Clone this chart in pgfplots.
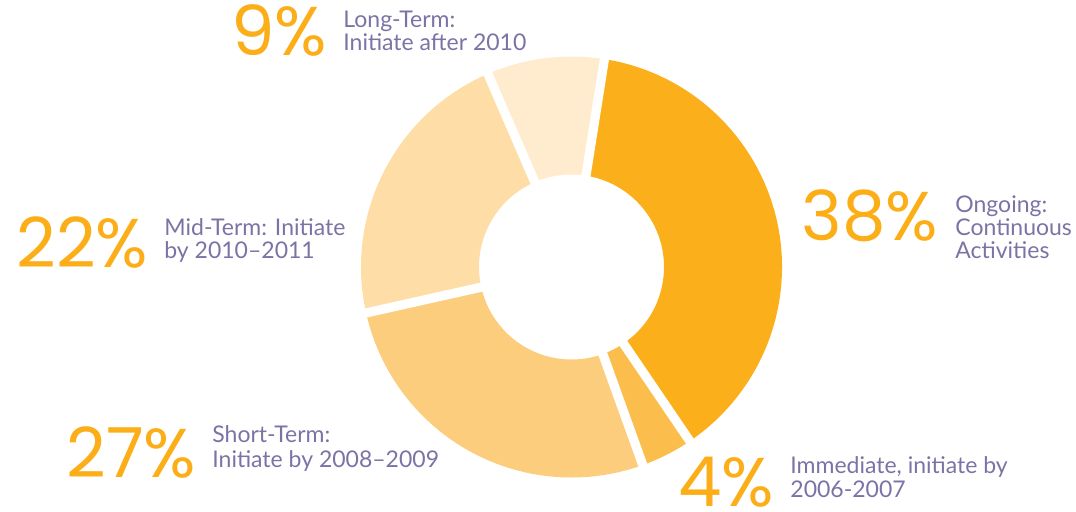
\documentclass[border=0pt]{standalone}
\usepackage{fontspec}
\setmainfont{Lato}
\newfontfamily\pctfont{Poppins}
\usepackage{pgfplots}
\usepackage{pgfplotstable}
\pgfplotsset{compat=1.18}
\usetikzlibrary{calc}
\definecolor{sA}{HTML}{FBAF1A}
\definecolor{sB}{HTML}{FBBE4C}
\definecolor{sC}{HTML}{FDCD7E}
\definecolor{sD}{HTML}{FEDDA6}
\definecolor{sE}{HTML}{FFEBCD}
\definecolor{pct}{HTML}{FBAE17}
\definecolor{lab}{HTML}{7A74A6}
% share of each slice (%), drawn clockwise
\pgfplotstableread{
value col
38 sA
4 sB
27 sC
22 sD
9 sE
}\slices
\begin{document}
\begin{tikzpicture}
\begin{axis}[scale only axis, width=538pt, height=255.5pt,
  xmin=0, xmax=1076, ymin=0, ymax=511, hide axis, clip=false]
\pgfplotsextra{
  \coordinate (C) at (axis cs:571.5,244);
  \def\Ro{105.25pt}\def\Ri{46.25pt}
  \xdef\ang{81}
  \pgfplotstablegetrowsof{\slices}
  \pgfmathtruncatemacro\nrows{\pgfplotsretval-1}
  \foreach \i in {0,...,\nrows}{
    \pgfplotstablegetelem{\i}{value}\of\slices \let\v\pgfplotsretval
    \pgfplotstablegetelem{\i}{col}\of\slices \let\c\pgfplotsretval
    \pgfmathsetmacro\a{\ang}
    \pgfmathsetmacro\b{\ang-3.6*\v}
    \fill[\c] ($(C)+(\a:\Ro)$) arc[start angle=\a, end angle=\b, radius=\Ro]
      -- ($(C)+(\b:\Ri)$) arc[start angle=\b, end angle=\a, radius=\Ri] -- cycle;
    \xdef\ang{\b}
  }
  \xdef\ang{81}
  \foreach \i in {0,...,\nrows}{
    \pgfplotstablegetelem{\i}{value}\of\slices \let\v\pgfplotsretval
    \draw[white, line width=4.6pt] ($(C)+(\ang:44pt)$) -- ($(C)+(\ang:107pt)$);
    \pgfmathsetmacro\b{\ang-3.6*\v}
    \xdef\ang{\b}
  }
}
\begin{scope}[every node/.style={inner sep=0pt, anchor=base west}]
\node[text=pct, font=\pctfont\fontsize{34.5}{34.5}\selectfont] at (axis cs:231,456) {9\%};
\node[text=pct, font=\pctfont\fontsize{34.5}{34.5}\selectfont] at (axis cs:801,271) {38\%};
\node[text=pct, font=\pctfont\fontsize{34.5}{34.5}\selectfont] at (axis cs:16,244) {22\%};
\node[text=pct, font=\pctfont\fontsize{34.5}{34.5}\selectfont] at (axis cs:66,34) {27\%};
\node[text=pct, font=\pctfont\fontsize{34.5}{34.5}\selectfont] at (axis cs:678,5) {4\%};
\node[text=lab, font=\fontsize{11.5}{11.5}\selectfont, align=left] at (axis cs:343,484) {Long-Term:};
\node[text=lab, font=\fontsize{11.5}{11.5}\selectfont] at (axis cs:343,461) {Initiate after 2010};
\node[text=lab, font=\fontsize{11.5}{11.5}\selectfont] at (axis cs:955,299) {Ongoing:};
\node[text=lab, font=\fontsize{11.5}{11.5}\selectfont] at (axis cs:955,276) {Continuous};
\node[text=lab, font=\fontsize{11.5}{11.5}\selectfont] at (axis cs:955,253) {Activities};
\node[text=lab, font=\fontsize{11.5}{11.5}\selectfont] at (axis cs:164,276) {Mid-Term: Initiate};
\node[text=lab, font=\fontsize{11.5}{11.5}\selectfont] at (axis cs:164,253) {by 2010–2011};
\node[text=lab, font=\fontsize{11.5}{11.5}\selectfont] at (axis cs:212,69) {Short-Term:};
\node[text=lab, font=\fontsize{11.5}{11.5}\selectfont] at (axis cs:212,44) {Initiate by 2008–2009};
\node[text=lab, font=\fontsize{11.5}{11.5}\selectfont] at (axis cs:790,38) {Immediate, initiate by};
\node[text=lab, font=\fontsize{11.5}{11.5}\selectfont] at (axis cs:790,14) {2006-2007};
\end{scope}
\end{axis}
\useasboundingbox (0,0) rectangle (538pt,255.5pt);
\end{tikzpicture}
\end{document}
